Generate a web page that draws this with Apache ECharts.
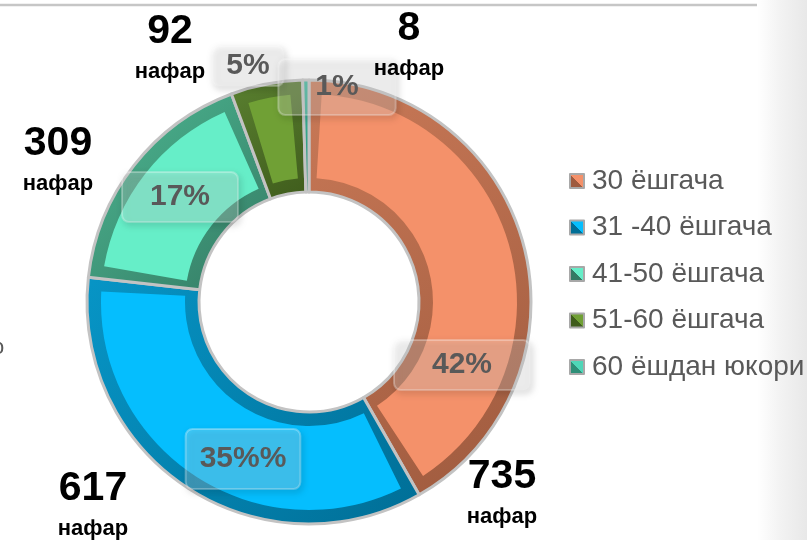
<!DOCTYPE html>
<html>
<head>
<meta charset="utf-8">
<script src="https://cdn.jsdelivr.net/npm/echarts@6/dist/echarts.min.js"></script>
<style>
  html, body { margin: 0; padding: 0; background: #ffffff; }
  #chart { width: 807px; height: 540px; }
</style>
</head>
<body>
<div id="chart"></div>
<script>
// Age groups and head counts
const categories = ['30 ёшгача', '31 -40 ёшгача', '41-50 ёшгача', '51-60 ёшгача', '60 ёшдан юкори'];
const counts = [735, 617, 309, 92, 8];
const percentLabels = ['42%', '35%%', '17%', '5%', '1%'];
const unitLabel = 'нафар';

// Slice face colours and the bevel shades around them (lit side / shaded side)
const faceColors = ['#F4916A', '#05BEFE', '#66EEC8', '#70A035', '#4FD6B8'];
const bevelLight = ['#C97957', '#0795C6', '#4DB893', '#5A8030', '#3CB89C'];
const bevelDark = ['#9E5A3E', '#006E96', '#347A63', '#3F5C1C', '#2E8F78'];

// Label placement (pixels)
const CENTER = [309, 302];
const pctPos = [[462, 365], [243, 459], [180, 197], [248, 66], [337, 87]];
const pctPad = [[10, 38], [15, 14], [10, 28], [5, 14], [13, 37]];
const valPos = [[502, 477], [93, 489], [58, 144], [170, 32], [409, 29]];

// Gap between slice faces (degrees), leaving the bevel visible along the edges
const FACE_PAD = 7;

const FONT = "'Liberation Sans', Arial, sans-serif";

const total = counts.reduce((a, b) => a + b, 0);
// Slices too thin to carry a raised face (the trailing sliver) are left as bevel only;
// the face ring then spans just the angle of the slices that have a face.
let faceCount = counts.length;
while (faceCount > 0 && counts[faceCount - 1] / total * 360 <= FACE_PAD) faceCount--;
const faceSum = counts.slice(0, faceCount).reduce((a, b) => a + b, 0);
const faceSweep = 360 * faceSum / total;

const chart = echarts.init(document.getElementById('chart'), null, { renderer: 'canvas' });

function bevelFill(i) {
  return new echarts.graphic.LinearGradient(0, 0, 1, 1, [
    { offset: 0, color: bevelLight[i] },
    { offset: 1, color: bevelDark[i] }
  ]);
}
function baseItems() {
  return categories.map((name, i) => ({ name: name, value: counts[i], itemStyle: { color: bevelFill(i) } }));
}
function faceItems(n) {
  return categories.slice(0, n).map((name, i) => ({ name: name, value: counts[i], itemStyle: { color: faceColors[i] } }));
}
function transparentItems(extra) {
  return categories.map((name, i) => Object.assign(
    { name: name, value: counts[i], itemStyle: { color: 'rgba(0,0,0,0)' } },
    extra ? extra(i) : {}
  ));
}

const commonPie = {
  type: 'pie',
  center: CENTER,
  startAngle: 90,
  clockwise: true,
  avoidLabelOverlap: false,
  animation: false,
  silent: true,
  emphasis: { disabled: true }
};

chart.setOption({
  backgroundColor: '#ffffff',
  animation: false,
  textStyle: { fontFamily: FONT },
  graphic: [
    {
      type: 'rect', z: -10, silent: true,
      shape: { x: 757, y: 0, width: 50, height: 540 },
      style: {
        fill: new echarts.graphic.LinearGradient(0, 0, 1, 0, [
          { offset: 0, color: '#ffffff' },
          { offset: 0.45, color: '#f3f3f3' },
          { offset: 1, color: '#e8e8e8' }
        ])
      }
    },
    {
      type: 'line', z: -5, silent: true,
      shape: { x1: 0, y1: 5, x2: 757, y2: 5 },
      style: { stroke: '#c6c6c6', lineWidth: 2.5 }
    },
    {
      type: 'text', silent: true, left: -8, top: 337,
      style: { text: 'о', font: "22px " + FONT, fill: '#595959' }
    }
  ],
  legend: {
    orient: 'vertical',
    left: 569,
    top: 167,
    padding: 0,
    itemWidth: 14,
    itemHeight: 14,
    itemGap: 18.5,
    icon: 'rect',
    selectedMode: false,
    textStyle: { fontSize: 28, color: '#595959', fontFamily: FONT, padding: [0, 0, 0, 3] },
    data: categories.map((name, i) => ({
      name: name,
      itemStyle: {
        color: new echarts.graphic.LinearGradient(1, 0, 0, 1, [
          { offset: 0, color: faceColors[i] },
          { offset: 0.5, color: faceColors[i] },
          { offset: 0.5, color: bevelDark[i] },
          { offset: 1, color: bevelDark[i] }
        ]),
        borderColor: '#a8a8a8',
        borderWidth: 2
      }
    }))
  },
  series: [
    // Bevel base ring with grey outline and separators
    Object.assign({}, commonPie, {
      name: 'base',
      z: 1,
      radius: [110, 222],
      label: { show: false },
      labelLine: { show: false },
      itemStyle: { borderColor: '#c3c3c3', borderWidth: 3 },
      data: baseItems()
    }),
    // Raised faces of the slices
    Object.assign({}, commonPie, {
      name: 'face',
      z: 2,
      radius: [124, 208],
      endAngle: 90 - faceSweep,
      padAngle: FACE_PAD,
      label: { show: false },
      labelLine: { show: false },
      data: faceItems(faceCount)
    }),
    // Percentage call-outs
    Object.assign({}, commonPie, {
      name: 'percent',
      z: 3,
      radius: [110, 222],
      label: {
        show: true,
        position: 'inside',
        formatter: p => percentLabels[p.dataIndex],
        fontFamily: FONT,
        fontSize: 30,
        fontWeight: 'bold',
        lineHeight: 30,
        color: '#595959',
        backgroundColor: 'rgba(255,255,255,0.22)',
        borderColor: 'rgba(255,255,255,0.3)',
        borderWidth: 1,
        borderRadius: 7,
        shadowColor: 'rgba(0,0,0,0.45)',
        shadowBlur: 6,
        shadowOffsetX: 2,
        shadowOffsetY: 3
      },
      labelLine: { show: false },
      labelLayout: p => ({
        x: pctPos[p.dataIndex][0],
        y: pctPos[p.dataIndex][1],
        align: 'center',
        verticalAlign: 'middle'
      }),
      data: transparentItems(i => ({ label: { padding: pctPad[i] } }))
    }),
    // Head-count labels
    Object.assign({}, commonPie, {
      name: 'count',
      z: 4,
      radius: [110, 222],
      label: {
        show: true,
        position: 'outside',
        formatter: p => '{n|' + counts[p.dataIndex] + '}\n{u|' + unitLabel + '}',
        rich: {
          n: { fontFamily: FONT, fontSize: 41, fontWeight: 'bold', color: '#000000', lineHeight: 44, align: 'center' },
          u: { fontFamily: FONT, fontSize: 22, fontWeight: 'bold', color: '#000000', lineHeight: 36, align: 'center' }
        }
      },
      labelLine: { show: false },
      labelLayout: p => ({
        x: valPos[p.dataIndex][0],
        y: valPos[p.dataIndex][1] - 22,
        align: 'center',
        verticalAlign: 'top'
      }),
      data: transparentItems()
    })
  ]
});
</script>
</body>
</html>
